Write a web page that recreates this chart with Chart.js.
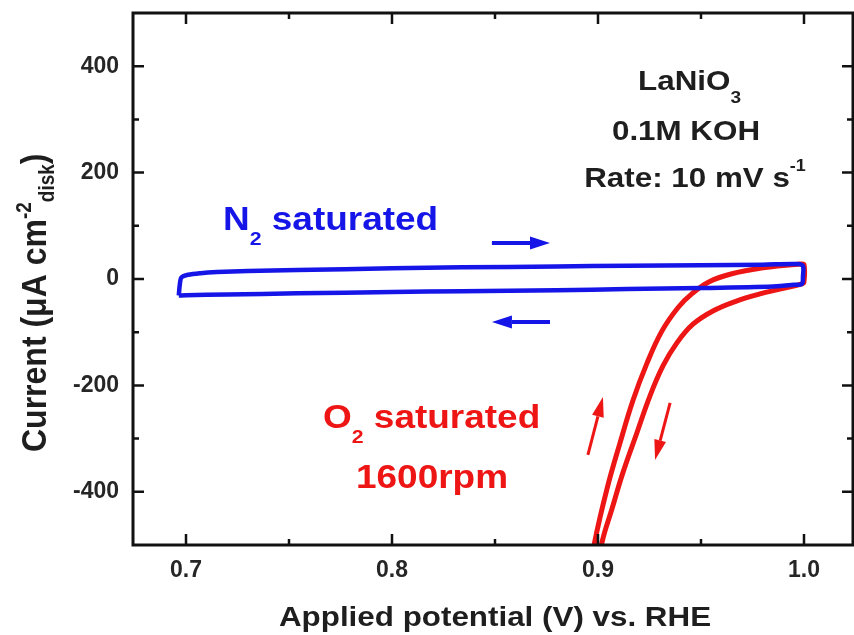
<!DOCTYPE html>
<html>
<head>
<meta charset="utf-8">
<script src="https://cdn.jsdelivr.net/npm/chart.js@4.4.0/dist/chart.umd.min.js"></script>
<style>
  html, body { margin: 0; padding: 0; background: #fff; }
</style>
</head>
<body>
<canvas id="cv" width="854" height="635"></canvas>
<script>
// axis ranges and ticks
const X_MIN = 0.67427, X_MAX = 1.02379;
const Y_MIN = -500, Y_MAX = 500;
const xMajor = [0.7, 0.8, 0.9, 1.0];
const xMinor = [0.75, 0.85, 0.95];
const yMajor = [-400, -200, 0, 200, 400];
const yMinor = [-300, -100, 100, 300];

// N2 saturated CV loop (potential V, current uA cm-2)
const n2Potential = [0.6965, 0.6970, 0.6978, 0.701, 0.707, 0.715, 0.73, 0.754, 0.80, 0.834, 0.88, 0.914, 0.95, 0.98, 0.997,
                     0.9995, 0.9995, 0.999, 0.995, 0.985, 0.95, 0.914, 0.88, 0.834, 0.80, 0.754, 0.72, 0.70, 0.6965];
const n2Current   = [-31, -10, 3, 8, 11, 13, 15, 17, 20, 22, 23.5, 25, 26, 27, 28,
                     24, 5, -9, -11, -14, -17, -19, -21, -23, -24.5, -27, -29, -30.5, -31];

// O2 saturated, 1600 rpm
const o2Potential = [0.8968, 0.8983, 0.9044, 0.9107, 0.9170, 0.9236, 0.9310, 0.9390, 0.9458, 0.9540, 0.9641, 0.9801, 0.9981,
                     1.0000, 1.0000, 0.999,
                     0.9883, 0.9786, 0.9675, 0.9558, 0.9461, 0.9383, 0.9316, 0.9252, 0.9189, 0.9121, 0.9068, 0.9019, 0.9007];
const o2Current   = [-540, -496, -394, -308, -228, -160, -98, -53, -27, -5, 9, 21, 28,
                     27, -5, -9,
                     -19, -28, -41, -60, -85, -120, -163, -220, -289, -364, -432, -496, -540];

// scan direction arrows [x0, y0, x1, y1]
const blueArrows = [[0.8485, 67.7, 0.8767, 67.7], [0.8767, -80.8, 0.8485, -80.8]];
const redArrows = [[0.8951, -330.8, 0.9024, -221.8], [0.9350, -233, 0.9277, -340]];

const FONT = '"Liberation Sans", Arial, Helvetica, sans-serif';
const BLUE = '#1515e8';
const RED = '#ee1515';
const DARK = '#1e1e1e';
const SX = 1.12;

const toPts = (xs, ys) => xs.map((x, i) => ({x: x, y: ys[i]}));

function richText(ctx, parts, x, y, align, color, rotate) {
  let w = 0;
  parts.forEach(p => { ctx.font = 'bold ' + p[1] + 'px ' + FONT; w += ctx.measureText(p[0]).width; });
  ctx.save();
  ctx.translate(x, y);
  ctx.scale(SX, 1);
  if (rotate) ctx.rotate(-Math.PI / 2);
  ctx.fillStyle = color;
  ctx.textAlign = 'left';
  ctx.textBaseline = 'alphabetic';
  let cx = align === 'center' ? -w / 2 : 0;
  parts.forEach(p => {
    ctx.font = 'bold ' + p[1] + 'px ' + FONT;
    ctx.fillText(p[0], cx, p[2]);
    cx += ctx.measureText(p[0]).width;
  });
  ctx.restore();
}

function arrow(ctx, x0, y0, x1, y1, color, lw, hl, hw) {
  const a = Math.atan2(y1 - y0, x1 - x0);
  const bx = x1 - Math.cos(a) * hl, by = y1 - Math.sin(a) * hl;
  ctx.save();
  ctx.strokeStyle = color; ctx.fillStyle = color; ctx.lineWidth = lw;
  ctx.beginPath(); ctx.moveTo(x0, y0); ctx.lineTo(bx, by); ctx.stroke();
  ctx.beginPath();
  ctx.moveTo(x1, y1);
  ctx.lineTo(bx + Math.sin(a) * hw, by - Math.cos(a) * hw);
  ctx.lineTo(bx - Math.sin(a) * hw, by + Math.cos(a) * hw);
  ctx.closePath(); ctx.fill();
  ctx.restore();
}

const decor = {
  id: 'decor',
  afterDatasetsDraw(chart) {
    const {ctx, chartArea: a, scales: {x, y}} = chart;
    // frame
    ctx.save();
    ctx.strokeStyle = '#111';
    ctx.lineWidth = 3;
    ctx.strokeRect(a.left, a.top, a.right - a.left, a.bottom - a.top);
    // inward ticks on all four sides
    ctx.lineWidth = 2.5;
    ctx.beginPath();
    const xt = (v, len) => {
      const p = x.getPixelForValue(v);
      ctx.moveTo(p, a.bottom); ctx.lineTo(p, a.bottom - len);
      ctx.moveTo(p, a.top); ctx.lineTo(p, a.top + len);
    };
    const yt = (v, len) => {
      const p = y.getPixelForValue(v);
      ctx.moveTo(a.left, p); ctx.lineTo(a.left + len, p);
      ctx.moveTo(a.right, p); ctx.lineTo(a.right - len, p);
    };
    xMajor.forEach(v => xt(v, 11)); xMinor.forEach(v => xt(v, 6));
    yMajor.forEach(v => yt(v, 11)); yMinor.forEach(v => yt(v, 6));
    ctx.stroke();
    ctx.restore();

    // arrows
    blueArrows.forEach(r => arrow(ctx, x.getPixelForValue(r[0]), y.getPixelForValue(r[1]),
      x.getPixelForValue(r[2]), y.getPixelForValue(r[3]), BLUE, 4, 20, 6.5));
    redArrows.forEach(r => arrow(ctx, x.getPixelForValue(r[0]), y.getPixelForValue(r[1]),
      x.getPixelForValue(r[2]), y.getPixelForValue(r[3]), RED, 3, 20, 6));

    // labels in the plot
    const px = v => x.getPixelForValue(v), py = v => y.getPixelForValue(v);
    richText(ctx, [['N', 33, 0], ['2', 19, 15], [' saturated', 33, 0]], px(0.71796), py(92.1), 'left', BLUE);
    richText(ctx, [['O', 33, 0], ['2', 19, 15], [' saturated', 33, 0]], px(0.76650), py(-280), 'left', RED);
    richText(ctx, [['1600rpm', 33, 0]], px(0.81942), py(-392.9), 'center', RED);
    richText(ctx, [['LaNiO', 28, 0], ['3', 17, 13]], px(0.94442), py(355.3), 'center', DARK);
    richText(ctx, [['0.1M KOH', 28, 0]], px(0.94272), py(261.3), 'center', DARK);
    richText(ctx, [['Rate: 10 mV s', 28, 0], ['-1', 16, -16]], px(0.94709), py(172.9), 'center', DARK);

    // axis titles
    richText(ctx, [['Applied potential (V) vs. RHE', 28, 0]], 495, 626, 'center', DARK);
    richText(ctx, [['Current (\u03bcA cm', 32, 0], ['-2', 19, -13], ['disk', 19, 7], [')', 32, 0]],
      46, 452, 'left', DARK, true);
  }
};

const tickFont = {family: FONT, size: 23, weight: 'bold'};

new Chart(document.getElementById('cv'), {
  type: 'scatter',
  data: {
    datasets: [
      {label: 'N2 saturated', data: toPts(n2Potential, n2Current), showLine: true,
       borderColor: BLUE, borderWidth: 4.5, pointRadius: 0, tension: 0.3, fill: false},
      {label: 'O2 saturated 1600rpm', data: toPts(o2Potential, o2Current), showLine: true,
       borderColor: RED, borderWidth: 5, pointRadius: 0, tension: 0.4, fill: false}
    ]
  },
  options: {
    responsive: false,
    animation: false,
    devicePixelRatio: 1,
    layout: {padding: {top: 13, right: 1, left: 0, bottom: 0}},
    plugins: {legend: {display: false}, tooltip: {enabled: false}},
    scales: {
      x: {
        type: 'linear', min: X_MIN, max: X_MAX,
        grid: {display: false, drawTicks: false},
        border: {display: false},
        afterBuildTicks: s => { s.ticks = xMajor.map(v => ({value: v})); },
        afterFit: s => { s.height = 90; s.paddingLeft = 0; s.paddingRight = 0; },
        ticks: {autoSkip: false, maxRotation: 0, padding: 12, color: '#262626', font: tickFont,
                callback: v => Number(v).toFixed(1)}
      },
      y: {
        type: 'linear', min: Y_MIN, max: Y_MAX,
        grid: {display: false, drawTicks: false},
        border: {display: false},
        afterBuildTicks: s => { s.ticks = yMajor.map(v => ({value: v})); },
        afterFit: s => { s.width = 133; s.paddingTop = 0; s.paddingBottom = 0; },
        ticks: {autoSkip: false, padding: 14, color: '#262626', font: tickFont,
                callback: v => String(v)}
      }
    }
  },
  plugins: [decor]
});
</script>
</body>
</html>
